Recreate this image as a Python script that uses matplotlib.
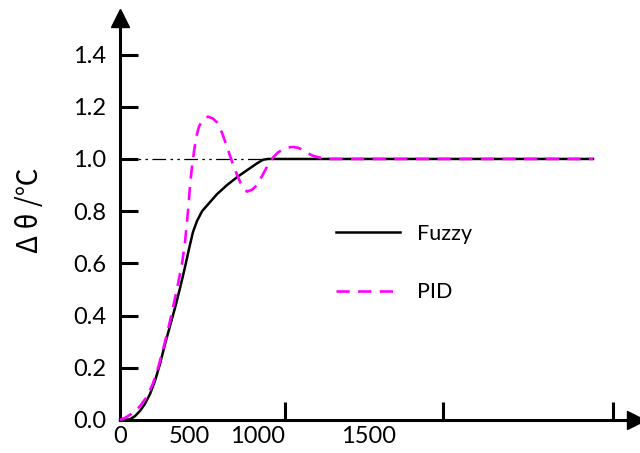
import matplotlib
matplotlib.use("Agg")
import matplotlib.pyplot as plt

# ---- data ----
fuzzy_t = [0, 36, 72.5, 109, 145, 181, 218, 254, 290, 326, 362.5, 399, 435, 471, 500, 529, 558, 595,
           653, 703, 776, 848, 921, 993, 1037, 1073, 3429]
fuzzy_y = [0.0, 0.0, 0.003, 0.015, 0.035, 0.062, 0.10, 0.15, 0.215, 0.29, 0.36, 0.43, 0.505, 0.585, 0.655, 0.72, 0.762, 0.80,
           0.835, 0.865, 0.90, 0.93, 0.957, 0.983, 0.997, 1.0, 1.0]

pid_t = [0, 36, 72.5, 109, 145, 196, 239, 276, 312, 348, 384, 420, 450, 471, 493, 508, 522, 537, 551, 573, 602,
         638, 674, 703, 740, 776, 812, 848, 885, 921, 957, 993, 1030, 1066, 1109, 1146, 1182, 1218,
         1254, 1291, 1327, 1363, 1399, 1450, 1501, 3429]
pid_y = [0.0, 0.008, 0.02, 0.035, 0.053, 0.09, 0.14, 0.20, 0.27, 0.345, 0.43, 0.52, 0.60, 0.68, 0.80, 0.90, 0.97, 1.03, 1.08, 1.125, 1.15,
         1.162, 1.155, 1.14, 1.10, 1.046, 0.99, 0.94, 0.895, 0.875, 0.882, 0.90, 0.935, 0.97, 1.005, 1.025, 1.037, 1.044,
         1.046, 1.043, 1.034, 1.022, 1.012, 1.005, 1.0, 1.0]

ref_t = [0, 1037]
ref_y = [1.0, 1.0]

ytick_vals = [0.0, 0.2, 0.4, 0.6, 0.8, 1.0, 1.2, 1.4]
xlabel_pos = [0, 500, 1000, 1800]
xlabel_txt = ["0", "500", "1000", "1500"]
xmark_pos = [1196, 2341, 3574]

# ---- figure ----
fig = plt.figure(figsize=(6.4, 4.53), dpi=100)
ax = fig.add_axes([120/640, 33/453, 516/640, 402/453])
ax.set_xlim(0, 3741)
ax.set_ylim(0, 1.540)

for s in ("top", "right"):
    ax.spines[s].set_visible(False)
for s in ("left", "bottom"):
    ax.spines[s].set_linewidth(2.2)
    ax.spines[s].set_color("black")

# arrows
ax.plot(0, 1, marker="^", color="black", markersize=13, transform=ax.transAxes, clip_on=False)
ax.plot(1, 0, marker=">", color="black", markersize=13, transform=ax.transAxes, clip_on=False)

# curves
ax.plot(ref_t, ref_y, color="black", lw=0.9, dashes=(11, 3.5, 2, 3.5, 2, 3.5), zorder=2)
ax.plot(fuzzy_t, fuzzy_y, color="black", lw=1.8, clip_on=False, zorder=3, label="Fuzzy",
        solid_joinstyle="round")
ax.plot(pid_t, pid_y, color="#FF00FF", lw=1.9, dashes=(5.0, 3.2), clip_on=False, zorder=4, label="PID")

# ticks
tick_font = "Lato"
ax.set_yticks(ytick_vals)
ax.set_yticklabels([f"{v:.1f}" for v in ytick_vals], fontsize=17, family=tick_font)
ax.tick_params(axis="y", direction="in", length=13, width=2.2, pad=10, colors="black")

ax.set_xticks(xlabel_pos)
ax.set_xticklabels(xlabel_txt, fontsize=17, family=tick_font)
ax.tick_params(axis="x", which="major", length=0, pad=4)
ax.set_xticks(xmark_pos, minor=True)
ax.tick_params(axis="x", which="minor", direction="in", length=13, width=2.2)

# y label
ax.set_ylabel("Δ θ /℃", fontsize=20, family=["Noto Sans CJK SC", "DejaVu Sans"])
ax.yaxis.set_label_coords(-0.145, 0.522)

# legend
leg = ax.legend(loc="upper left", bbox_to_anchor=(336/640, 1 - 224/453), bbox_transform=fig.transFigure,
                frameon=False, prop={"family": tick_font, "size": 15.5},
                handlelength=2.98, handletextpad=0.8, labelspacing=1.78, borderpad=0, borderaxespad=0)

fig.savefig("out.png", dpi=100)
